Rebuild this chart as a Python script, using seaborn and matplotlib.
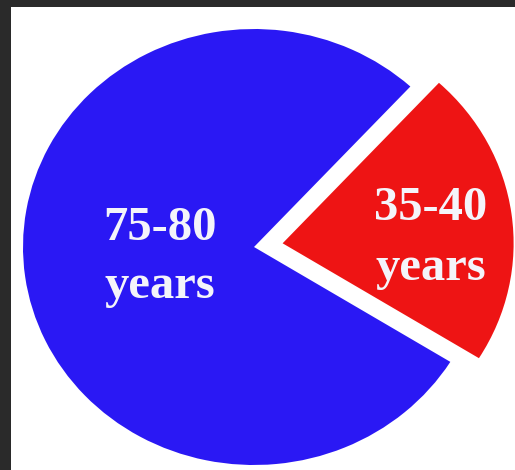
import matplotlib
matplotlib.use("Agg")
import matplotlib.pyplot as plt
import seaborn as sns
from matplotlib.patches import Rectangle

# Data
categories = ["35-40\nyears", "75-80\nyears"]
values = [22, 78]
colors = ["#EE1414", "#2A18F4"]
explode = [0.125, 0.0]

sns.set_theme(style="white")
plt.rcParams["font.family"] = ["Liberation Serif", "DejaVu Serif"]

W, H = 515, 470
fig = plt.figure(figsize=(W / 100, H / 100), dpi=100)
fig.patch.set_facecolor("#2a2a2a")

# white inner panel (frame effect)
fig.patches.append(Rectangle((11 / W, 0), (W - 11) / W, (H - 7) / H,
                             transform=fig.transFigure, facecolor="white",
                             edgecolor="none", zorder=-5))

ax = fig.add_axes([0, 0, 1, 1])
ax.set_facecolor("none")
ax.set_zorder(1)
wedges, _ = ax.pie(values, colors=colors, explode=explode, startangle=-31.8,
                   counterclock=True, radius=1.0, center=(0, 0),
                   wedgeprops=dict(linewidth=0))
ax.set_aspect("auto")
ax.set_xlim(-254 / 231, (W - 254) / 231)
ax.set_ylim(-(H - 247) / 218, 247 / 218)
ax.axis("off")

# labels (pixel positions converted to figure fractions)
label_pos = [(431, 220, 280), (160, 240, 298)]
for lab, (px, by1, by2) in zip(categories, label_pos):
    l1, l2 = lab.split("\n")
    fig.text(px / W, 1 - by1 / H, l1, color="#f4f4fa", fontsize=35,
             fontweight="bold", ha="center", va="baseline", zorder=10)
    fig.text(px / W, 1 - by2 / H, l2, color="#f4f4fa", fontsize=35,
             fontweight="bold", ha="center", va="baseline", zorder=10)

fig.savefig("out.png", dpi=100, facecolor=fig.get_facecolor())
